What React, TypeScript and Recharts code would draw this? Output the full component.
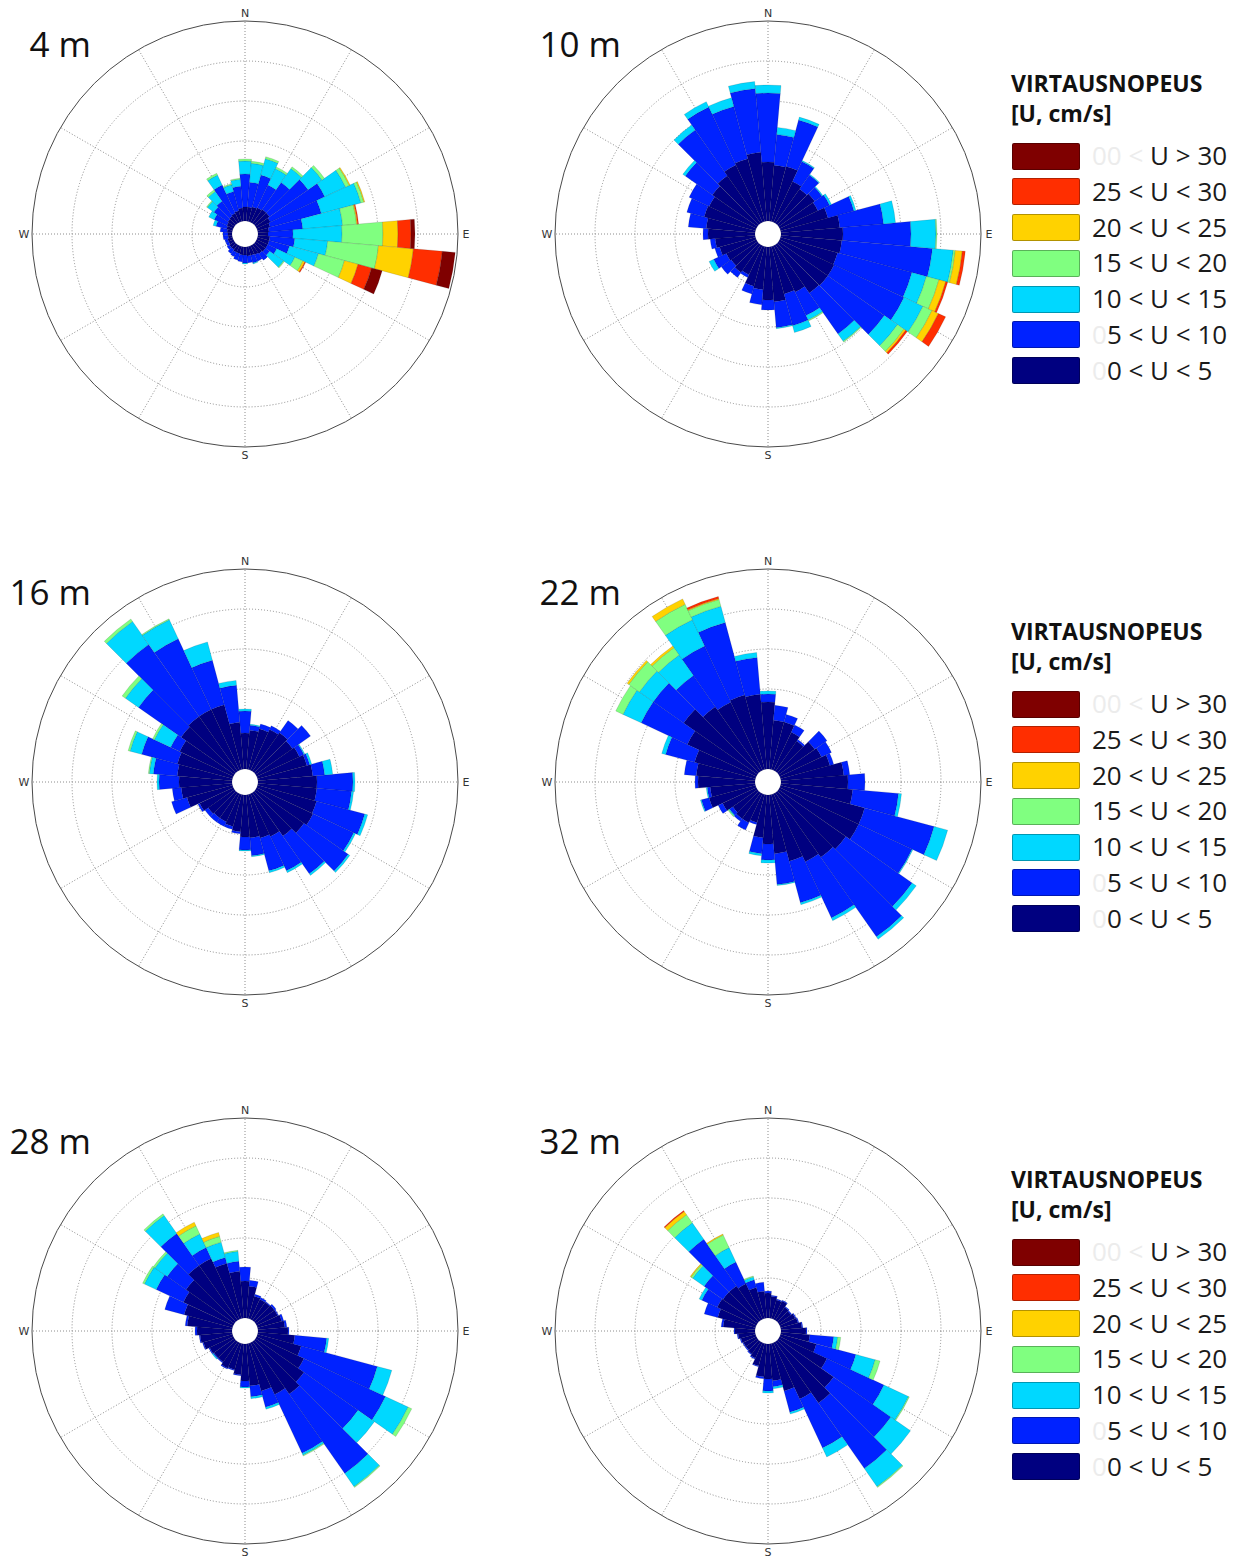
import React from "react";
import {
  RadialBarChart,
  RadialBar,
  PolarAngleAxis,
  PolarRadiusAxis,
  PolarGrid,
  Sector,
} from "recharts";

// bin centres, degrees clockwise from north
const DIRECTIONS = [
  0, 10, 20, 30, 40, 50, 60, 70, 80, 90, 100, 110, 120, 130, 140, 150, 160, 170,
  180, 190, 200, 210, 220, 230, 240, 250, 260, 270, 280, 290, 300, 310, 320, 330,
  340, 350,
];
// dotted spokes, compass bearings
const SPOKES = [0, 30, 60, 90, 120, 150, 180, 210, 240, 270, 300, 330];
const RINGS = [4, 8, 12, 16];
const RADIUS_MAX = 20;
const COMPASS: Record<number, string> = { 0: "N", 90: "E", 180: "S", 270: "W" };

// slowest first (stack order)
const SPEED_CLASSES = [
  { key: "u0", color: "#000080", ghost: "0", label: "0 < U < 5" },
  { key: "u5", color: "#0022ff", ghost: "0", label: "5 < U < 10" },
  { key: "u10", color: "#00d8ff", ghost: "", label: "10 < U < 15" },
  { key: "u15", color: "#80ff80", ghost: "", label: "15 < U < 20" },
  { key: "u20", color: "#ffd200", ghost: "", label: "20 < U < 25" },
  { key: "u25", color: "#ff2e00", ghost: "", label: "25 < U < 30" },
  { key: "u30", color: "#7f0000", ghost: "00 < ", label: "U > 30" },
];

// frequency per direction, one row per bin, columns = speed classes (slow -> fast)
const D4 = [
  [1.4, 3.3, 1.3, 0.2], [1.4, 2.5, 1.9, 0.2], [1.5, 3.3, 1.7, 0.2], [1.6, 2.5, 1.8, 0.2],
  [1.7, 3.3, 1.7, 0.2], [1.7, 4.7, 1.7, 0.3], [1.5, 6.0, 2.3, 0.4, 0.1], [1.3, 5.3, 4.1, 0.3, 0.1],
  [1.1, 3.4, 4.0, 1.4, 0.1, 0.1], [1.0, 2.5, 4.9, 4.1, 1.5, 1.3, 0.4],
  [1.2, 2.5, 3.3, 5.1, 3.5, 2.9, 1.3], [1.2, 2.1, 3.0, 2.7, 1.4, 1.4, 1.1],
  [1.2, 1.0, 2.0, 0.9, 0.2, 0.1], [1.2, 0.5, 1.7, 0.1], [1.1, 0.8], [1.0, 0.7],
  [0.9, 0.8, 0.1], [0.9, 0.7], [0.8, 0.8, 0.1], [0.8, 0.7], [0.7, 0.7], [0.7, 0.5],
  [0.6, 0.5], [0.6, 0.3], [0.5, 0.3], [0.5, 0.3], [0.4, 0.5], [0.4, 0.5], [0.5, 0.7],
  [0.6, 1.1, 0.3], [0.7, 1.4, 0.6], [0.8, 1.7, 0.8, 0.1], [0.9, 1.8, 1.2, 0.2],
  [1.0, 3.1, 1.1, 0.2], [1.1, 2.0, 0.7, 0.1], [1.3, 2.2, 0.7, 0.1],
];

const D10 = [
  [5.9, 6.9, 0.8], [5.6, 3.1, 0.7], [5.7, 4.8, 0.3], [4.5, 2.2, 0.1], [4.2, 1.7, 0.1],
  [4.4, 0.9, 0.1], [4.2, 1.3, 0.2], [4.9, 2.7, 0.2], [5.9, 4.4, 1.2], [6.2, 6.8, 2.5, 0.1],
  [6.1, 9.1, 2.1, 0.2, 0.7, 0.3], [5.9, 7.7, 1.5, 1.3, 0.7, 0.2],
  [6.0, 7.7, 2.1, 1.0, 0.7, 0.8], [6.0, 6.9, 1.6, 0.8, 0.2, 0.2], [5.9, 5.0, 0.9, 0.1],
  [5.1, 2.6, 0.5, 0.1], [4.9, 3.3, 0.7], [5.5, 2.6, 0.1], [5.3, 1.0], [4.3, 1.5],
  [4.1, 0.8], [3.2, 0.3], [3.4, 0.6], [3.2, 1.2], [3.3, 1.4, 0.5], [3.7, 0.5], [4.0, 0.5],
  [4.7, 0.5], [4.9, 1.8], [5.3, 1.8], [5.2, 2.2], [5.5, 3.3, 0.3], [5.8, 5.6, 0.6],
  [6.3, 6.4, 0.6], [6.5, 5.4, 0.9], [6.9, 6.4, 0.7],
];

const D16 = [
  [3.6, 2.2, 0.2], [3.9, 0.5, 0.1], [4.2, 0.5], [4.5, 0.4], [4.7, 1.5], [4.5, 2.2],
  [4.7, 0.5, 0.1], [5.1, 0.3, 0.2], [5.5, 1.2, 0.8], [5.9, 3.6, 0.2], [5.9, 3.5, 0.2],
  [6.1, 5.0, 0.3], [6.2, 4.5, 0.2], [5.9, 5.4, 0.2], [5.3, 4.6, 0.2], [4.7, 3.8, 0.2],
  [4.5, 3.4, 0.2], [4.3, 1.8, 0.1], [4.2, 1.3, 0.1], [3.7, 0.2], [3.3, 0.3], [3.1, 0.5],
  [3.1, 0.5], [3.2, 0.4], [3.7, 0.2], [4.7, 1.6], [5.1, 0.9], [5.3, 2.0, 0.2],
  [5.5, 2.4, 0.4, 0.1], [5.7, 3.7, 1.2, 0.2], [5.9, 1.0, 1.8, 0.2], [6.5, 5.2, 1.6, 0.4],
  [6.7, 8.8, 2.8, 0.3], [6.7, 7.8, 2.1, 0.1], [6.7, 4.6, 1.9], [4.7, 3.7, 0.5],
];

const D22 = [
  [6.7, 0.8, 0.3], [4.9, 1.5], [4.9, 0.8], [4.2, 0.8], [3.7, 0.2], [4.4, 1.5], [4.6, 1.1],
  [5.1, 0.4], [6.3, 0.6], [6.7, 1.7], [7.2, 4.6, 0.3], [8.7, 7.2, 1.4], [8.7, 5.9, 0.1],
  [8.2, 8.1, 0.5], [7.9, 9.7, 0.3], [7.5, 6.2, 0.3], [6.9, 4.3, 0.2], [5.9, 3.1, 0.1],
  [4.9, 1.6, 0.3], [4.3, 1.6, 0.2], [2.9, 0.2], [3.2, 0.8], [3.2, 0.3], [3.0, 0.4, 0.1, 0.1],
  [3.7, 0.5], [4.8, 0.8, 0.1], [4.5, 0.3, 0.1], [5.7, 0.3], [5.9, 1.2], [6.3, 3.0, 0.4],
  [7.6, 5.1, 2.0, 0.8], [9.0, 3.7, 1.7, 1.3, 0.2], [7.9, 3.8, 2.5, 0.9, 0.2],
  [7.5, 6.2, 2.9, 1.7, 0.6], [7.7, 7.5, 1.7, 0.7, 0.1, 0.2], [7.5, 3.7, 0.5],
];

const D28 = [
  [3.7, 1.4], [3.2, 0.6], [2.3, 0.2], [2.2, 0.2], [2.2, 0.1], [2.3, 0.2], [2.3, 0.1],
  [2.5, 0.2], [2.7, 0.2], [3.0, 0.1], [3.7, 3.2, 0.2], [4.5, 7.9, 1.5], [5.2, 9.0, 2.5, 0.4],
  [5.9, 6.6, 2.0], [6.4, 9.7, 1.6, 0.1], [5.7, 6.5, 0.2, 0.1], [4.9, 1.7, 0.2],
  [4.2, 1.1, 0.2], [3.7, 0.6, 0.1], [3.1, 0.1], [2.7, 0.1], [2.8, 0.1], [2.5, 0.1],
  [2.5, 0.1, 0.1], [2.6, 0.1], [3.0, 0.1], [3.2, 0.1], [3.5, 0.2], [4.5, 0.2], [5.0, 2.0],
  [5.5, 3.0, 1.3, 0.2], [5.9, 2.3, 1.5, 0.2], [6.7, 3.9, 2.2, 0.2], [6.7, 1.2, 1.5, 0.9, 0.4],
  [5.7, 0.6, 1.6, 0.6, 0.4], [4.7, 1.0, 1.0, 0.1],
];

const D32 = [
  [2.5, 0.2], [2.2, 0.1], [1.9, 0.1], [2.0, 0.1], [1.6, 0.1], [1.5, 0.1], [1.7, 0.1],
  [1.8, 0.1], [2.1, 0.1], [2.5, 0.1], [2.9, 2.4, 0.4, 0.3], [3.7, 4.1, 2.0, 0.5],
  [5.2, 6.3, 2.7, 0.1], [6.7, 7.0, 2.4], [7.5, 8.0, 2.2, 0.1], [6.2, 5.4, 1.0],
  [4.9, 2.2, 0.2], [3.7, 0.6, 0.2], [3.5, 1.2, 0.2], [3.3, 0.2], [2.3, 0.1], [1.7, 0.1],
  [1.5, 0.1], [1.4, 0.1], [1.4, 0.1], [1.5, 0.1], [1.7, 0.1], [2.0, 0.1], [3.2, 0.2],
  [3.9, 1.4], [4.3, 1.7, 0.3], [4.2, 2.3, 1.4, 0.2, 0.1], [4.2, 5.7, 2.0, 1.0, 0.4, 0.1],
  [3.9, 2.4, 1.6, 1.4, 0.1], [3.2, 0.8, 0.3, 0.1], [2.7, 0.9],
];

const ROSES = [
  { title: "4 m", rows: D4, cx: 245, cy: 234 },
  { title: "10 m", rows: D10, cx: 768, cy: 234 },
  { title: "16 m", rows: D16, cx: 245, cy: 782 },
  { title: "22 m", rows: D22, cx: 768, cy: 782 },
  { title: "28 m", rows: D28, cx: 245, cy: 1331 },
  { title: "32 m", rows: D32, cx: 768, cy: 1331 },
];

const SIZE = 470;
const FONT = "'Open Sans', 'Noto Sans', sans-serif";
// compass bearing -> recharts polar angle (counter-clockwise from east)
const SPOKE_ANGLES = SPOKES.map((b) => 90 - b);
// category ticks sit on the bin edge; turn labels back by half a bin
const HALF_BIN = (Math.PI / 180) * (180 / DIRECTIONS.length);

function buildRows(rows: number[][]) {
  return DIRECTIONS.map((dir, i) => {
    const row: Record<string, number> = { dir };
    SPEED_CLASSES.forEach((c, k) => {
      row[c.key] = rows[i][k] ?? 0;
    });
    return row;
  });
}

// skip empty slices so their outline does not draw an arc
const sectorShape = (props: any) => {
  if (!props || Math.abs(props.outerRadius - props.innerRadius) < 0.05) return <g />;
  return <Sector {...props} />;
};

const compassTick = (props: any) => {
  const label = COMPASS[props.payload?.value];
  if (!label) return <g />;
  const c = SIZE / 2;
  const dx = props.x - c;
  const dy = props.y - c;
  const x = c + dx * Math.cos(HALF_BIN) + dy * Math.sin(HALF_BIN);
  const y = c - dx * Math.sin(HALF_BIN) + dy * Math.cos(HALF_BIN);
  return (
    <text
      x={x}
      y={y}
      textAnchor="middle"
      dominantBaseline="central"
      fontSize={11}
      fill="#333"
      fontFamily="'DejaVu Sans', sans-serif"
    >
      {label}
    </text>
  );
};

function Rose({ title, rows, cx, cy }: { title: string; rows: number[][]; cx: number; cy: number }) {
  const data = buildRows(rows);
  const rightCol = cx > 500;
  return (
    <>
      <div
        style={{
          position: "absolute",
          left: rightCol ? 500 : 0,
          width: rightCol ? 121 : 91,
          top: cy - 234 + 26,
          textAlign: "right",
          fontFamily: FONT,
          fontSize: 35,
          lineHeight: "35px",
          color: "#111",
        }}
      >
        {title}
      </div>
      <div style={{ position: "absolute", left: cx - SIZE / 2, top: cy - SIZE / 2 }}>
        <RadialBarChart
          width={SIZE}
          height={SIZE}
          data={data}
          layout="centric"
          cx={SIZE / 2}
          cy={SIZE / 2}
          innerRadius={13}
          outerRadius={213}
          startAngle={85}
          endAngle={-275}
          barCategoryGap={0}
          barGap={0}
          margin={{ top: 0, right: 0, bottom: 0, left: 0 }}
        >
          <PolarGrid
            gridType="circle"
            polarAngles={SPOKE_ANGLES}
            stroke="#8c8c8c"
            strokeDasharray="1 2"
            strokeWidth={1}
          />
          <PolarAngleAxis
            dataKey="dir"
            type="category"
            tick={compassTick}
            tickLine={false}
            axisLine={{ stroke: "#4a4a4a", strokeWidth: 1 }}
            axisLineType="circle"
          />
          <PolarRadiusAxis
            type="number"
            domain={[0, RADIUS_MAX]}
            ticks={RINGS}
            tick={false}
            axisLine={false}
          />
          {SPEED_CLASSES.map((c) => (
            <RadialBar
              key={c.key}
              dataKey={c.key}
              stackId="rose"
              fill={c.color}
              stroke="rgba(0,0,0,0.25)"
              strokeWidth={0.5}
              shape={sectorShape}
              isAnimationActive={false}
            />
          ))}
        </RadialBarChart>
      </div>
    </>
  );
}

function SpeedLegend({ dy }: { dy: number }) {
  const items = [...SPEED_CLASSES].reverse();
  return (
    <>
      <div
        style={{
          position: "absolute",
          left: 1011,
          top: 72 + dy,
          fontFamily: FONT,
          fontWeight: 700,
          fontSize: 23,
          lineHeight: "23px",
          color: "#111",
        }}
      >
        VIRTAUSNOPEUS
      </div>
      <div
        style={{
          position: "absolute",
          left: 1011,
          top: 102 + dy,
          fontFamily: FONT,
          fontWeight: 700,
          fontSize: 23,
          lineHeight: "23px",
          color: "#111",
        }}
      >
        [U, cm/s]
      </div>
      {items.map((c, i) => (
        <React.Fragment key={c.key}>
          <div
            style={{
              position: "absolute",
              left: 1012,
              top: 142.5 + i * 35.75 + dy,
              width: 66,
              height: 25,
              background: c.color,
              border: "1px solid rgba(0,0,0,0.3)",
              borderRadius: 2,
            }}
          />
          <div
            style={{
              position: "absolute",
              left: 1092,
              top: 142 + i * 35.75 + dy,
              fontFamily: FONT,
              fontSize: 26,
              lineHeight: "27px",
              color: "#1a1a1a",
              whiteSpace: "nowrap",
            }}
          >
            <span style={{ color: "#ececec" }}>{c.ghost}</span>
            {c.label}
          </div>
        </React.Fragment>
      ))}
    </>
  );
}

export default function App() {
  return (
    <div
      style={{
        position: "absolute",
        left: 0,
        top: 0,
        width: 1242,
        height: 1557,
        background: "#fff",
        overflow: "hidden",
      }}
    >
      {ROSES.map((r) => (
        <Rose key={r.title} {...r} />
      ))}
      <SpeedLegend dy={0} />
      <SpeedLegend dy={548} />
      <SpeedLegend dy={1096} />
    </div>
  );
}
